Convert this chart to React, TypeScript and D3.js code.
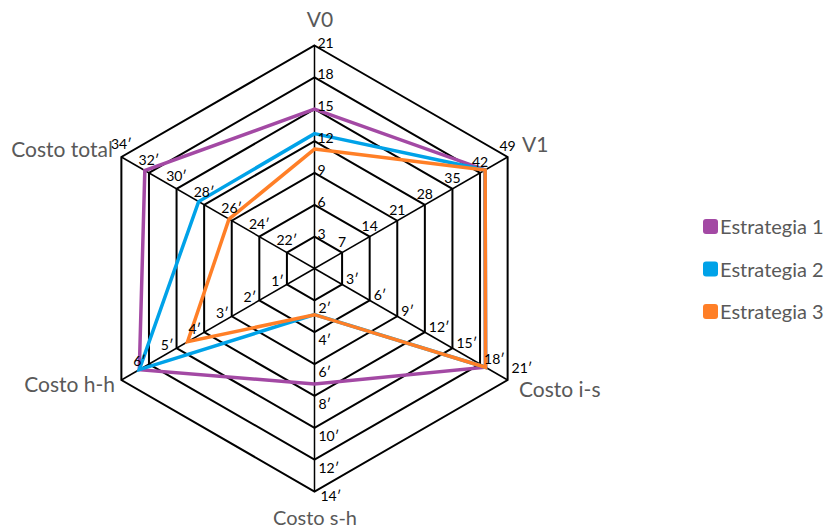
import { useEffect, useRef } from "react";
import * as d3 from "d3";

const categories = ["V0", "V1", "Costo i-s", "Costo s-h", "Costo h-h", "Costo total"];
const axisMin = [0, 0, 0, 0, 0, 20];
const axisMax = [21, 49, 21, 14, 7, 34];
const tickLabels = [
  ["3", "6", "9", "12", "15", "18", "21"],
  ["7", "14", "21", "28", "35", "42", "49"],
  ["3′", "6′", "9′", "12′", "15′", "18′", "21′"],
  ["2′", "4′", "6′", "8′", "10′", "12′", "14′"],
  ["1′", "2′", "3′", "4′", "5′", "6′", ""],
  ["22′", "24′", "26′", "28′", "30′", "32′", "34′"],
];

const seriesNames = ["Estrategia 1", "Estrategia 2", "Estrategia 3"];
const estrategia1 = [15, 43.3, 18.6, 7.25, 6.35, 32.3];
const estrategia2 = [12.7, 43.3, 18.6, 2.9, 6.35, 28.4];
const estrategia3 = [11.25, 43.3, 18.6, 2.9, 4.6, 26.2];
const colors = ["#A349A4", "#00A2E8", "#FF7F27"];

export default function App() {
  const svgRef = useRef<SVGSVGElement>(null);

  useEffect(() => {
    if (!svgRef.current) return;
    const svg = d3.select(svgRef.current);
    svg.selectAll("*").remove();

    const cx = 314.5;
    const cy = 268.5;
    const R = 223;
    const levels = 7;
    const font = "Lato, 'Open Sans', sans-serif";

    const angle = (i: number) => -Math.PI / 2 + (i * Math.PI) / 3;
    const scales = categories.map((_, i) =>
      d3.scaleLinear().domain([axisMin[i], axisMax[i]]).range([0, R])
    );
    const pt = (i: number, r: number): [number, number] => [
      cx + r * Math.cos(angle(i)),
      cy + r * Math.sin(angle(i)),
    ];

    const g = svg.append("g");

    // spokes
    categories.forEach((_, i) => {
      const [x, y] = pt(i, R);
      g.append("line")
        .attr("x1", cx)
        .attr("y1", cy)
        .attr("x2", x)
        .attr("y2", y)
        .attr("stroke", "#000")
        .attr("stroke-width", 1.5);
    });

    // rings
    const ringLine = d3.line<[number, number]>();
    for (let k = 1; k <= levels; k++) {
      const pts = categories.map((_, i) => pt(i, (R * k) / levels));
      g.append("path")
        .attr("d", ringLine(pts) + "Z")
        .attr("fill", "none")
        .attr("stroke", "#000")
        .attr("stroke-width", 2);
    }

    // series
    const series = [estrategia1, estrategia2, estrategia3];
    series.forEach((vals, s) => {
      const pts = vals.map((v, i) => pt(i, scales[i](v)));
      g.append("path")
        .attr("d", ringLine(pts) + "Z")
        .attr("fill", "none")
        .attr("stroke", colors[s])
        .attr("stroke-width", 3.5)
        .attr("stroke-linejoin", "miter");
    });

    // tick labels
    tickLabels.forEach((labels, i) => {
      labels.forEach((lab, k) => {
        if (!lab) return;
        const [x, y] = pt(i, (R * (k + 1)) / levels);
        const t = g.append("text")
          .attr("font-family", font)
          .attr("font-size", 14)
          .attr("fill", "#000")
          .text(lab);
        if (i === 0) t.attr("x", x + 3).attr("y", y + 2);
        else if (i === 1) t.attr("x", x).attr("y", y - 6).attr("text-anchor", "middle");
        else if (i === 2) t.attr("x", x + 4).attr("y", k === 6 ? y - 7 : y);
        else if (i === 3) t.attr("x", x + (k === 6 ? 6 : 4)).attr("y", k === 6 ? y + 9 : y + 13);
        else if (i === 4) t.attr("x", x - 3).attr("y", y + 2).attr("text-anchor", "end");
        else t.attr("x", x).attr("y", y - 8).attr("text-anchor", "middle");
      });
    });

    // axis titles
    const titlePos: [number, number, string][] = [
      [320, 27, "middle"],
      [522, 152, "start"],
      [519, 397, "start"],
      [315, 525, "middle"],
      [115, 392, "end"],
      [113, 157, "end"],
    ];
    categories.forEach((c, i) => {
      g.append("text")
        .attr("x", titlePos[i][0])
        .attr("y", titlePos[i][1])
        .attr("text-anchor", titlePos[i][2])
        .attr("font-family", font)
        .attr("font-size", i === 3 ? 20 : 21)
        .attr("fill", "#595959")
        .text(c);
    });

    // legend
    const legend = svg.append("g").attr("transform", "translate(703,219)");
    seriesNames.forEach((name, s) => {
      const row = legend.append("g").attr("transform", `translate(0,${s * 42.5})`);
      row.append("rect")
        .attr("width", 15)
        .attr("height", 15)
        .attr("rx", 3)
        .attr("fill", colors[s]);
      row.append("text")
        .attr("x", 17)
        .attr("y", 15)
        .attr("font-family", font)
        .attr("font-size", 20)
        .attr("fill", "#595959")
        .text(name);
    });
  }, []);

  return (
    <svg
      ref={svgRef}
      width={829}
      height={527}
      style={{ position: "fixed", left: 0, top: 0, background: "#fff" }}
    />
  );
}
